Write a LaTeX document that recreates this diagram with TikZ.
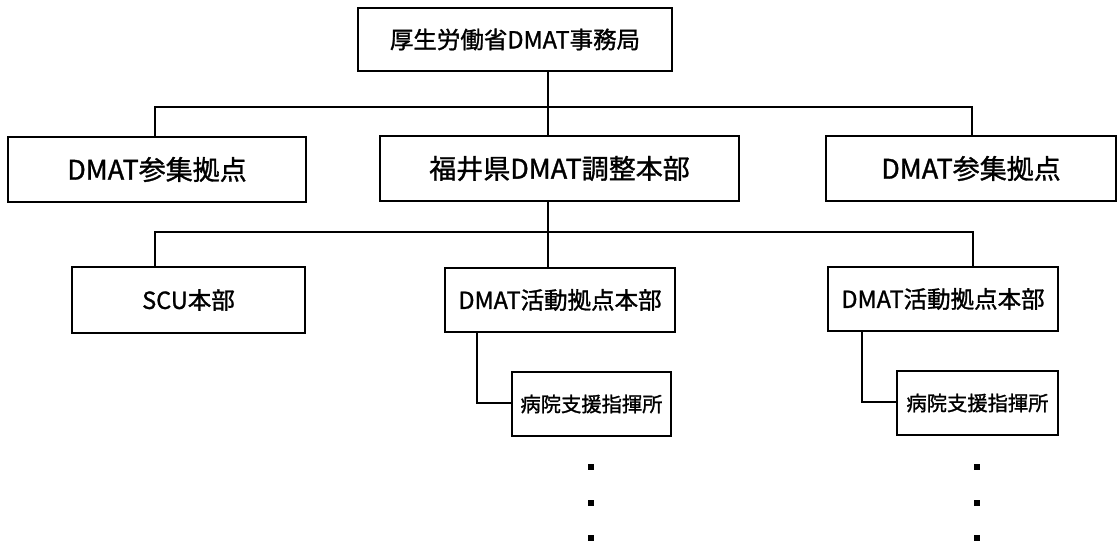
\documentclass[tikz,border=0pt]{standalone}
\usepackage{fontspec}
\newfontfamily\jp[RawFeature={embolden=1.2}]{Noto Sans CJK JP}
\begin{document}
\begin{tikzpicture}[x=1pt,y=-1pt,
  box/.style={draw=black,line width=2pt,fill=white,inner sep=0pt,font=\jp},
  conn/.style={draw=black,line width=2.2pt},
  dot/.style={fill=black,inner sep=0pt,minimum size=6pt,draw=none}]
\useasboundingbox (0,0) rectangle (1118,546);
% level 1
\node[box,minimum width=314pt,minimum height=63pt,font=\jp\fontsize{23.5}{28}\selectfont] (top) at (515,39.5) {厚生労働省DMAT事務局};
% level 2
\node[box,minimum width=298pt,minimum height=65pt,font=\jp\fontsize{27}{32}\selectfont] (l2a) at (157,169.5) {DMAT参集拠点};
\node[box,minimum width=359pt,minimum height=65pt,font=\jp\fontsize{27}{32}\selectfont] (l2b) at (559.5,168.5) {福井県DMAT調整本部};
\node[box,minimum width=290pt,minimum height=65pt,font=\jp\fontsize{27}{32}\selectfont] (l2c) at (971,168.5) {DMAT参集拠点};
% level 3
\node[box,minimum width=233pt,minimum height=66pt,font=\jp\fontsize{23.5}{28}\selectfont] (scu) at (188.5,300) {SCU本部};
\node[box,minimum width=230pt,minimum height=64pt,font=\jp\fontsize{23.5}{28}\selectfont] (kb) at (560,300) {DMAT活動拠点本部};
\node[box,minimum width=230pt,minimum height=64pt,font=\jp\fontsize{23.5}{28}\selectfont] (kc) at (943,299) {DMAT活動拠点本部};
% level 4
\node[box,minimum width=159pt,minimum height=64pt,font=\jp\fontsize{20.3}{24}\selectfont] (hb) at (591.5,404) {病院支援指揮所};
\node[box,minimum width=161pt,minimum height=64pt,font=\jp\fontsize{20.3}{24}\selectfont] (hc) at (977.5,403) {病院支援指揮所};
% bus coordinates
\coordinate (b1l) at (155,107);
\coordinate (b1m) at (548,107);
\coordinate (b1r) at (972,107);
\coordinate (b2l) at (155,232);
\coordinate (b2m) at (548,232);
\coordinate (b2r) at (973,232);
\coordinate (sb) at (477,403);
\coordinate (sc) at (862,402);
% connectors
\draw[conn] (top.south -| b1m) -- (l2b.north -| b1m);
\draw[conn] (l2a.north -| b1l) -- (b1l) -- (b1r) -- (l2c.north -| b1r);
\draw[conn] (l2b.south -| b2m) -- (kb.north -| b2m);
\draw[conn] (scu.north -| b2l) -- (b2l) -- (b2r) -- (kc.north -| b2r);
\draw[conn] (kb.south -| sb) -- (sb) -- (hb.west |- sb);
\draw[conn] (kc.south -| sc) -- (sc) -- (hc.west |- sc);
% continuation dots
\foreach \y [count=\i] in {467,503,538} {
  \node[dot] (db\i) at (591,\y) {};
  \node[dot] (dc\i) at (977,\y) {};
}
\end{tikzpicture}
\end{document}
